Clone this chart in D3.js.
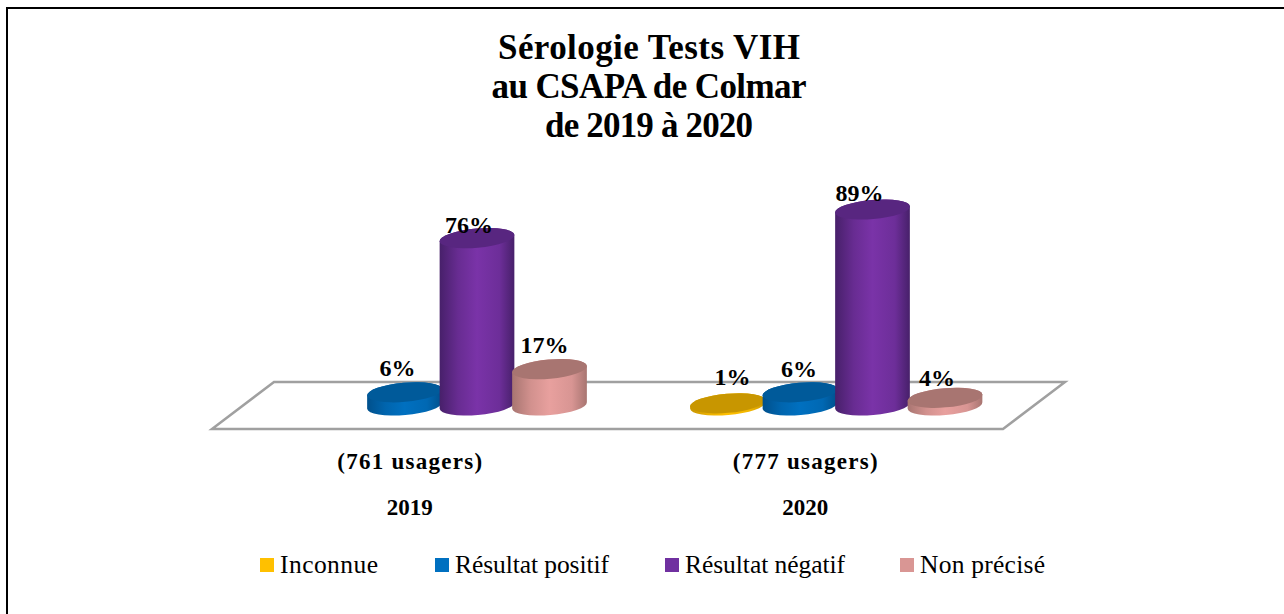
<!DOCTYPE html>
<html><head><meta charset="utf-8">
<script src="https://cdn.jsdelivr.net/npm/d3@7/dist/d3.min.js"></script>
<style>html,body{margin:0;padding:0;background:#fff;overflow:hidden}svg{display:block}text{font-family:"Liberation Serif",serif;fill:#000}</style>
</head><body><script>
const titleLines = ["Sérologie Tests VIH", "au CSAPA de Colmar", "de 2019 à 2020"];
const years = ["2019", "2020"];
const userCounts = ["(761 usagers)", "(777 usagers)"];
const seriesNames = ["Inconnue", "Résultat positif", "Résultat négatif", "Non précisé"];
const seriesColors = ["#ffc000", "#0070c0", "#7a33a8", "#e8a09e"];
const legendColors = ["#ffc000", "#0070c0", "#7030a0", "#d99694"];
const seriesTops = ["#c89600", "#005a9a", "#582680", "#a87571"];
const seriesEdges = ["#c89600", "#00508c", "#47206a", "#a87571"];
const inconnue = [null, 1];
const positif = [6, 6];
const negatif = [76, 89];
const nonPrecise = [16.5, 3.5];
const seriesValues = [inconnue, positif, negatif, nonPrecise];
// hand-placed label nudges (dx, dy) per series/year
const labelNudge = [[null,[5,-18]],[[-7,-16],[-1,-15]],[[-8,-5],[-13,-9]],[[-5,-16],[-8,-12]]];

const W=1284,H=614;
const svg=d3.select("body").append("svg").attr("width",W).attr("height",H);
const defs=svg.append("defs");
seriesColors.forEach((c,i)=>{
  const g=defs.append("linearGradient").attr("id","g"+i);
  [[0,seriesEdges[i]],[.25,d3.interpolateRgb(seriesEdges[i],c)(.65)],[.5,c],[.8,d3.interpolateRgb(seriesEdges[i],c)(.75)],[1,seriesEdges[i]]]
   .forEach(([o,col])=>g.append("stop").attr("offset",o).attr("stop-color",col));
});
svg.append("path").attr("fill","none").attr("stroke","#000").attr("stroke-width",2)
 .attr("d",d3.line()([[7,H],[7,8],[W,8]]));

const title=svg.append("text").attr("text-anchor","middle").attr("font-weight","bold").attr("font-size",35);
const titleWidths=[302,315,208];
titleLines.forEach((t,i)=>title.append("tspan").attr("x",649).attr("y",59+i*39).attr("textLength",titleWidths[i]).text(t));

// floor
const floorFront={y:429,x0:212,x1:1003}, floorBack={y:382,x0:274,x1:1065};
const x=d3.scaleBand().domain(years).range([floorFront.x0,floorFront.x1]);
const sub=d3.scaleBand().domain(seriesNames).range([-145,145]);
const depth=(floorBack.x0-floorFront.x0)/2;
const baseY=(floorFront.y+floorBack.y)/2;
const y=d3.scaleLinear().domain([0,89]).range([baseY,baseY-196]);
svg.append("path").attr("fill","#fff").attr("stroke","#a0a0a0").attr("stroke-width",2.5)
 .attr("d",d3.line()([[floorFront.x0,floorFront.y],[floorFront.x1,floorFront.y],[floorBack.x1,floorBack.y],[floorBack.x0,floorBack.y]])+"Z");

const rx=37.5,ryy=9.6,rot=-5,ca=Math.cos(rot*Math.PI/180),sa=Math.sin(rot*Math.PI/180);
const marks=[];
seriesNames.forEach((s,si)=>years.forEach((yr,yi)=>{
  const v=seriesValues[si][yi]; if(v==null) return;
  marks.push({s,si,yr,yi,v,cx:x(yr)+x.bandwidth()/2+depth+sub(s)+sub.bandwidth()/2});
}));
const bars=svg.selectAll("g.bar").data(marks).join("g").attr("class","bar");
bars.append("path").attr("fill",d=>`url(#g${d.si})`).attr("d",d=>{
  const b=y(0),t=y(d.v),dx=rx*ca,dy=rx*sa;
  return `M${d.cx-dx},${t-dy}L${d.cx-dx},${b-dy}A${rx},${ryy} ${rot} 0 0 ${d.cx+dx},${b+dy}L${d.cx+dx},${t+dy}A${rx},${ryy} ${rot} 0 0 ${d.cx-dx},${t-dy}Z`;
});
bars.append("ellipse").attr("rx",rx).attr("ry",ryy).attr("fill",d=>seriesTops[d.si])
 .attr("transform",d=>`translate(${d.cx},${y(d.v)}) rotate(${rot})`);
svg.selectAll("text.val").data(marks).join("text").attr("class","val").attr("text-anchor","middle")
 .attr("font-weight","bold").attr("font-size",24)
 .attr("x",d=>d.cx+labelNudge[d.si][d.yi][0]).attr("y",d=>y(d.v)+labelNudge[d.si][d.yi][1])
 .text(d=>Math.round(d.v)+"%");

svg.selectAll("text.users").data(years).join("text").attr("class","users").attr("text-anchor","middle")
 .attr("font-weight","bold").attr("font-size",23).attr("textLength",145).attr("x",d=>x(d)+x.bandwidth()/2).attr("y",469).text((d,i)=>userCounts[i]);
svg.selectAll("text.year").data(years).join("text").attr("class","year").attr("text-anchor","middle")
 .attr("font-weight","bold").attr("font-size",23).attr("x",d=>x(d)+x.bandwidth()/2).attr("y",515).text(d=>d);

const legendX=d3.scaleOrdinal().domain(seriesNames).range([260,435,665,900]);
const legendWidths=[98,154,160,125];
const lg=svg.selectAll("g.leg").data(seriesNames).join("g").attr("class","leg").attr("transform",d=>`translate(${legendX(d)},0)`);
lg.append("rect").attr("y",558).attr("width",14).attr("height",14).attr("fill",(d,i)=>legendColors[i]);
lg.append("text").attr("x",20).attr("y",573).attr("font-size",25.5).attr("textLength",(d,i)=>legendWidths[i]).text(d=>d);
</script></body></html>
